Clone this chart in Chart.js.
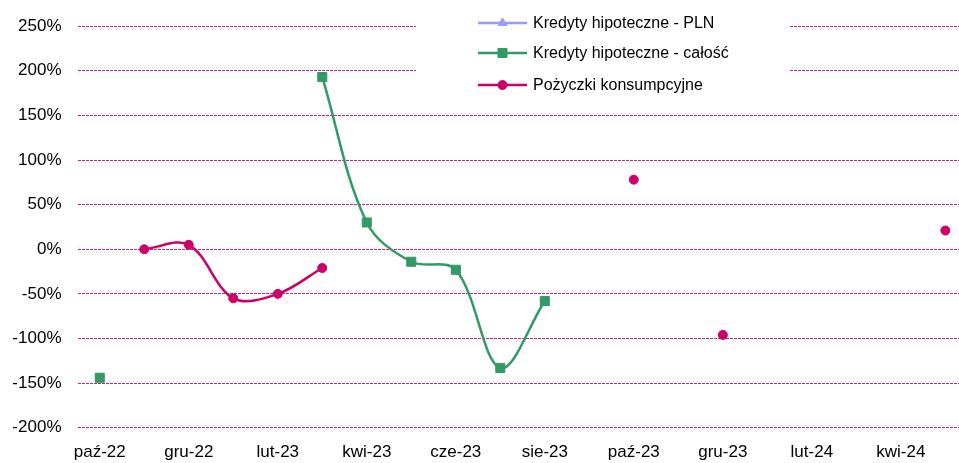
<!DOCTYPE html>
<html>
<head>
<meta charset="utf-8">
<script src="https://cdn.jsdelivr.net/npm/chart.js@4"></script>
<style>
    html, body { margin: 0; padding: 0; background: #fff; overflow: hidden; }
    #wrap { position: absolute; left: 0; top: 0; width: 975px; height: 463px; }
</style>
</head>
<body>
<div id="wrap"><canvas id="chart" width="975" height="463"></canvas></div>
<script>
// Dane
const months = ['paź-22', 'lis-22', 'gru-22', 'sty-23', 'lut-23', 'mar-23', 'kwi-23', 'maj-23', 'cze-23', 'lip-23',
    'sie-23', 'wrz-23', 'paź-23', 'lis-23', 'gru-23', 'sty-24', 'lut-24', 'mar-24', 'kwi-24', 'maj-24'];

const hipotecznePln = [null, null, null, null, null, null, null, null, null, null,
    null, null, null, null, null, null, null, null, null, null];

const hipoteczneCalosc = [-144, null, null, null, null, 193, 30, -14, -23, -133,
    -58, null, null, null, null, null, null, null, null, null];

const konsumpcyjne = [null, 0, 5, -55, -50, -21, null, null, null, null,
    null, null, 78, null, -96, null, null, null, null, 21];

const yTicks = [-200, -150, -100, -50, 0, 50, 100, 150, 200, 250];

const FONT = '"Liberation Sans", Arial, sans-serif';

// Legenda rysowana ręcznie w białym polu
const legendBox = {
    id: 'legendBox',
    afterDatasetsDraw(chart) {
        const ctx = chart.ctx;
        ctx.save();
        ctx.fillStyle = '#fff';
        ctx.fillRect(416, 4, 374, 96);

        const rows = [23, 53, 85];
        chart.data.datasets.forEach((ds, i) => {
            const y = rows[i];
            ctx.strokeStyle = ds.borderColor;
            ctx.fillStyle = ds.borderColor;
            ctx.lineWidth = 2.5;
            ctx.beginPath();
            ctx.moveTo(478, y);
            ctx.lineTo(527, y);
            ctx.stroke();
            ctx.lineWidth = 1;
            Chart.helpers.drawPoint(ctx, {
                pointStyle: ds.pointStyle,
                radius: ds.pointRadius,
                borderWidth: 1
            }, 502.5, y);
            ctx.fillStyle = '#000';
            ctx.font = '16px ' + FONT;
            ctx.textBaseline = 'middle';
            ctx.textAlign = 'left';
            ctx.fillText(ds.label, 533, y + 1);
        });
        ctx.restore();
    }
};

function makeDataset(label, data, color, style, radius) {
    return {
        label: label,
        data: data,
        borderColor: color,
        backgroundColor: color,
        pointBackgroundColor: color,
        pointBorderColor: color,
        borderWidth: 2.5,
        pointStyle: style,
        pointRadius: radius,
        pointBorderWidth: 1,
        tension: 0.35,
        spanGaps: false
    };
}

new Chart(document.getElementById('chart'), {
    type: 'line',
    data: {
        labels: months,
        datasets: [
            makeDataset('Kredyty hipoteczne - PLN', hipotecznePln, '#9999ff', 'triangle', 5),
            makeDataset('Kredyty hipoteczne - całość', hipoteczneCalosc, '#339966', 'rect', 6.4),
            makeDataset('Pożyczki konsumpcyjne', konsumpcyjne, '#cc0066', 'circle', 4.5)
        ]
    },
    options: {
        responsive: false,
        animation: false,
        layout: { padding: { top: 25, right: 3.5, bottom: 0, left: 0 } },
        plugins: {
            legend: { display: false },
            tooltip: { enabled: false }
        },
        scales: {
            x: {
                offset: true,
                grid: { display: false, drawTicks: false },
                border: { display: false },
                ticks: {
                    autoSkip: false,
                    maxRotation: 0,
                    padding: 14,
                    color: '#000',
                    font: { family: FONT, size: 17 },
                    callback: (v, i) => (i % 2 === 0 ? months[i] : '')
                },
                afterFit: s => { s.height = 35.3; }
            },
            y: {
                min: -200,
                max: 250,
                afterBuildTicks: s => { s.ticks = yTicks.map(v => ({ value: v })); },
                grid: {
                    color: '#dc1f80',
                    lineWidth: 1,
                    drawTicks: false
                },
                border: { display: false, dash: [3, 1] },
                ticks: {
                    padding: 16,
                    color: '#000',
                    font: { family: FONT, size: 17 },
                    callback: v => v + '%'
                },
                afterFit: s => { s.width = 77.5; }
            }
        }
    },
    plugins: [legendBox]
});
</script>
</body>
</html>
